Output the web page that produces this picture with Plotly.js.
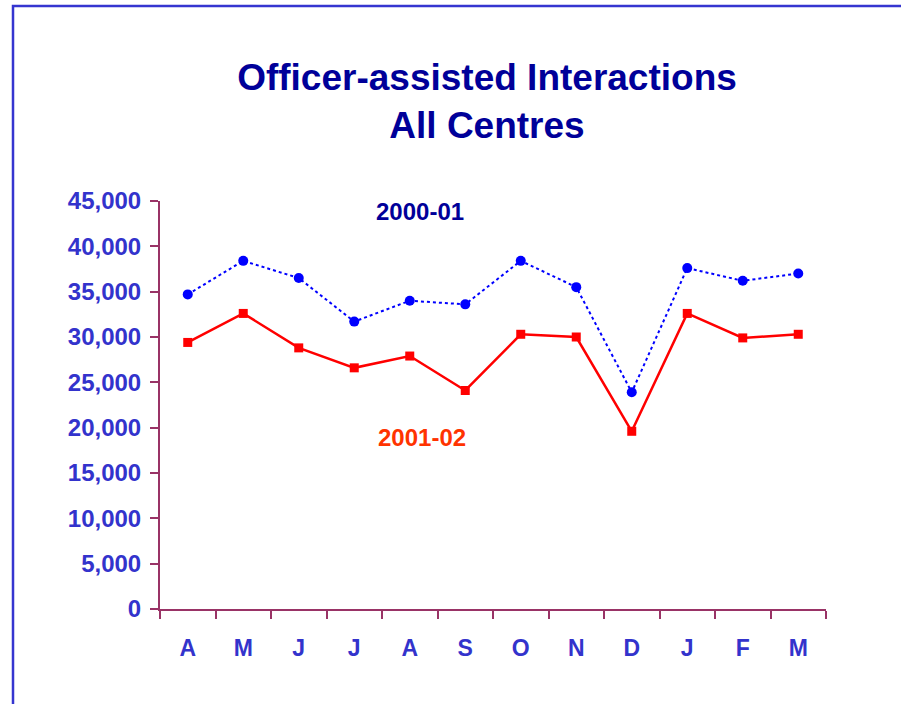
<!DOCTYPE html>
<html>
<head>
<meta charset="utf-8">
<script src="https://cdn.plot.ly/plotly-3.0.1.min.js"></script>
<style>html,body{margin:0;padding:0;background:#fff;}#chart{width:901px;height:704px;}</style>
</head>
<body>
<div id="chart"></div>
<script>
const months = ["A","M","J","J","A","S","O","N","D","J","F","M"];
const monthIds = ["Apr","May","Jun","Jul","Aug","Sep","Oct","Nov","Dec","Jan","Feb","Mar"];
const series2000 = [34700, 38400, 36500, 31700, 34000, 33600, 38400, 35500, 23900, 37600, 36200, 37000];
const series2001 = [29400, 32600, 28800, 26600, 27900, 24100, 30300, 30000, 19600, 32600, 29900, 30300];
const yTicks = [0,5000,10000,15000,20000,25000,30000,35000,40000,45000];

const FONT = "Liberation Sans, Arial, sans-serif";
const axisCol = "#993366";
const labelCol = "#3333cc";

const traces = [
  {
    x: monthIds, y: series2000, name: "2000-01", type: "scatter", mode: "lines+markers",
    line: {color: "#0000ff", width: 2, dash: "dot"},
    marker: {symbol: "circle", size: 10, color: "#0000ff"}
  },
  {
    x: monthIds, y: series2001, name: "2001-02", type: "scatter", mode: "lines+markers",
    line: {color: "#ff0000", width: 2.5},
    marker: {symbol: "square", size: 9, color: "#ff0000"}
  }
];

const layout = {
  width: 901, height: 704,
  margin: {l: 160, r: 75, t: 201, b: 95},
  paper_bgcolor: "#ffffff", plot_bgcolor: "#ffffff",
  showlegend: false,
  title: {
    text: "Officer-assisted Interactions<br>All Centres",
    font: {family: FONT, size: 37, color: "#000099", weight: "bold"},
    x: 487/901, xref: "container", xanchor: "center",
    y: 1 - 90/704, yref: "container", yanchor: "top"
  },
  xaxis: {
    type: "category", categoryarray: monthIds, categoryorder: "array",
    tickvals: monthIds, ticktext: months,
    range: [-0.5, 11.5], tickson: "boundaries",
    ticks: "outside", ticklen: 8, tickwidth: 2, tickcolor: axisCol,
    showline: true, linecolor: axisCol, linewidth: 2,
    showgrid: false, zeroline: false, fixedrange: true,
    ticklabelstandoff: 17,
    tickfont: {family: FONT, size: 23, color: labelCol, weight: "bold"}
  },
  yaxis: {
    range: [0, 45000], tickvals: yTicks, tickformat: ",d",
    ticks: "outside", ticklen: 8, tickwidth: 2, tickcolor: axisCol,
    showline: true, linecolor: axisCol, linewidth: 2,
    showgrid: false, zeroline: false, fixedrange: true,
    ticklabelstandoff: 4,
    tickfont: {family: FONT, size: 24, color: labelCol, weight: "bold"}
  },
  annotations: [
    {text: "2000-01", x: "Sep", y: 43800, xref: "x", yref: "y", xshift: -45, showarrow: false,
     font: {family: FONT, size: 24, color: "#000099", weight: "bold"}},
    {text: "2001-02", x: "Sep", y: 18900, xref: "x", yref: "y", xshift: -43, showarrow: false,
     font: {family: FONT, size: 24, color: "#ff3300", weight: "bold"}}
  ],
  shapes: [
    {type: "rect", xref: "paper", yref: "paper",
     x0: (13-160)/666, x1: (910-160)/666, y0: (609-712)/408, y1: (609-6)/408,
     line: {color: "#3535d0", width: 2.5}, fillcolor: "rgba(0,0,0,0)", layer: "above"}
  ]
};

Plotly.newPlot("chart", traces, layout, {displayModeBar: false, staticPlot: true});
</script>
</body>
</html>
